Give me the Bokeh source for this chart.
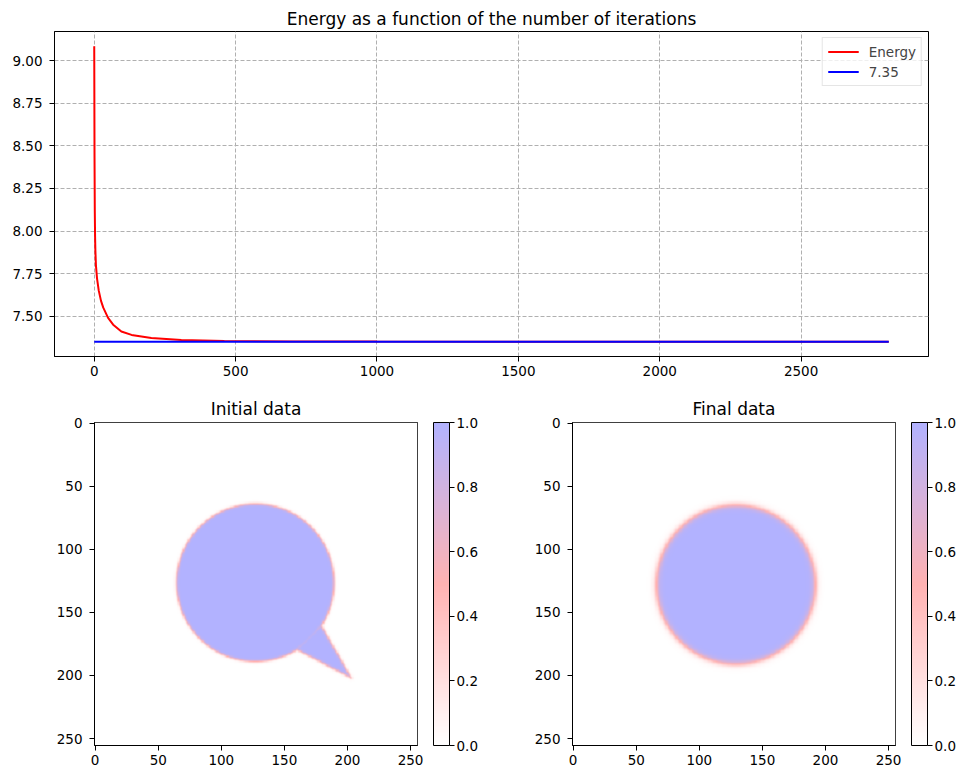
import numpy as np
from bokeh.plotting import figure
from bokeh.layouts import column, row
from bokeh.models import (Range1d, FixedTicker, PrintfTickFormatter, LinearColorMapper,
                          ColorBar, Legend, LegendItem)
from bokeh.embed import file_html
from bokeh.resources import INLINE

# ---------------- data ----------------
iterations = [0, 1, 2, 3, 4, 6, 10, 16, 24, 32, 49, 67, 96, 132, 202, 308, 460, 700,
              1000, 1500, 2000, 2810]
energy = [9.085, 8.45, 8.12, 7.97, 7.89, 7.80, 7.72, 7.65, 7.59, 7.55, 7.49, 7.45,
          7.41, 7.39, 7.372, 7.36, 7.354, 7.352, 7.351, 7.3505, 7.3502, 7.3500]
reference_energy = 7.35
reference_label = "7.35"
x_ticks = [0, 500, 1000, 1500, 2000, 2500]
y_ticks = [7.50, 7.75, 8.00, 8.25, 8.50, 8.75, 9.00]
img_ticks = [0, 50, 100, 150, 200, 250]
cbar_ticks = [0.0, 0.2, 0.4, 0.6, 0.8, 1.0]

# phase-field shapes (grid 256 x 256, x = column, y = row)
grid_n = 256
initial_center = (127.0, 126.5)
initial_radius = 62.5
initial_tail = [(179.0, 160.0), (203.0, 202.0), (159.0, 179.0)]
initial_width = 1.1
final_center = (129.0, 128.0)
final_radius = 63.0
final_width = 2.6

# colormap anchors (white -> red -> blue, drawn at alpha 0.3 on white)
cmap_anchors = [(255, 255, 255), (255, 0, 0), (0, 0, 255)]
cmap_alpha = 0.3

FONT = "DejaVu Sans"


def blend(c):
    return tuple(int(round(255 * (1 - cmap_alpha) + v * cmap_alpha)) for v in c)


def build_palette(n=256):
    a = [blend(c) for c in cmap_anchors]
    out = []
    for i in range(n):
        t = i / (n - 1) * (len(a) - 1)
        k = min(int(t), len(a) - 2)
        f = t - k
        c = [a[k][j] * (1 - f) + a[k + 1][j] * f for j in range(3)]
        out.append("#%02x%02x%02x" % tuple(int(round(v)) for v in c))
    return out


def sd_circle(X, Y, c, r):
    return np.hypot(X - c[0], Y - c[1]) - r


def sd_polygon(X, Y, verts):
    d = np.full(X.shape, np.inf)
    inside = np.zeros(X.shape, bool)
    n = len(verts)
    for i in range(n):
        ax, ay = verts[i]
        bx, by = verts[(i + 1) % n]
        ex, ey = bx - ax, by - ay
        t = np.clip(((X - ax) * ex + (Y - ay) * ey) / (ex * ex + ey * ey), 0, 1)
        d = np.minimum(d, np.hypot(X - ax - t * ex, Y - ay - t * ey))
        cond = ((ay > Y) != (by > Y)) & (X < ex * (Y - ay) / (by - ay + 1e-12) + ax)
        inside ^= cond
    return np.where(inside, -d, d)


X, Y = np.meshgrid(np.arange(grid_n, dtype=float), np.arange(grid_n, dtype=float))
d_init = np.minimum(sd_circle(X, Y, initial_center, initial_radius),
                    sd_polygon(X, Y, initial_tail))
u_init = 0.5 * (1 - np.tanh(d_init / initial_width))
d_final = sd_circle(X, Y, final_center, final_radius)
u_final = 0.5 * (1 - np.tanh(d_final / final_width))

palette = build_palette()
mapper = LinearColorMapper(palette=palette, low=0, high=1)


def style_axes(f, label_size="13.5px"):
    for ax in (f.xaxis[0], f.yaxis[0]):
        ax.axis_line_color = "black"
        ax.major_tick_line_color = "black"
        ax.major_tick_in = 0
        ax.major_tick_out = 5
        ax.minor_tick_line_color = None
        ax.major_label_text_font = FONT
        ax.major_label_text_font_size = label_size
        ax.major_label_text_color = "black"
    f.xaxis.major_label_standoff = 4
    f.yaxis.major_label_standoff = 7
    f.outline_line_color = "black"
    f.outline_line_width = 1
    f.title.align = "center"
    f.title.text_font = FONT
    f.title.text_font_size = "17px"
    f.title.text_font_style = "normal"
    f.title.text_color = "black"


# ---------------- top: energy ----------------
x_lo, x_hi = iterations[0], iterations[-1]
x_pad = 0.05 * (x_hi - x_lo)
y_lo, y_hi = reference_energy, max(energy)
y_pad = 0.05 * (y_hi - y_lo)

p = figure(title="Energy as a function of the number of iterations",
           x_range=Range1d(x_lo - x_pad, x_hi + x_pad),
           y_range=Range1d(y_lo - y_pad, y_hi + y_pad),
           frame_width=874, frame_height=325,
           min_border_left=54, min_border_right=33, min_border_top=31, min_border_bottom=29,
           output_backend="svg", toolbar_location=None)
style_axes(p)
p.title.standoff = 6
p.xaxis.ticker = FixedTicker(ticks=x_ticks)
p.yaxis.ticker = FixedTicker(ticks=y_ticks)
p.yaxis.formatter = PrintfTickFormatter(format="%.2f")
p.grid.grid_line_color = "#b0b0b0"
p.grid.grid_line_dash = "4 2"
p.grid.grid_line_width = 1

r_energy = p.line(iterations, energy, line_color="red", line_width=2)
r_ref = p.line([x_lo, x_hi], [reference_energy, reference_energy], line_color="blue", line_width=2)

legend = Legend(items=[LegendItem(label="Energy", renderers=[r_energy]),
                       LegendItem(label=reference_label, renderers=[r_ref])],
                location="top_right")
legend.label_text_font = FONT
legend.label_text_font_size = "13.5px"
legend.border_line_color = "#cccccc"
legend.background_fill_alpha = 0.8
legend.glyph_width = 31
legend.glyph_height = 17
legend.label_height = 17
legend.label_standoff = 10
legend.padding = 5
legend.spacing = 3
legend.margin = 6
p.add_layout(legend)


# ---------------- bottom: images ----------------
def image_panel(title, field, left, right):
    f = figure(title=title,
               x_range=Range1d(-0.5, grid_n - 0.5), y_range=Range1d(grid_n - 0.5, -0.5),
               frame_width=323, frame_height=323,
               min_border_left=left, min_border_right=right,
               min_border_top=37, min_border_bottom=26,
               output_backend="svg", toolbar_location=None)
    f.image(image=[field], x=-0.5, y=-0.5, dw=grid_n, dh=grid_n, color_mapper=mapper)
    style_axes(f)
    f.title.standoff = 8
    f.grid.visible = False
    f.xaxis.ticker = FixedTicker(ticks=img_ticks)
    f.yaxis.ticker = FixedTicker(ticks=img_ticks)
    cb = ColorBar(color_mapper=mapper, width=16, height=323, padding=0, margin=0,
                  location=(16, 0),
                  ticker=FixedTicker(ticks=cbar_ticks),
                  formatter=PrintfTickFormatter(format="%.1f"),
                  bar_line_color="black", border_line_color=None,
                  background_fill_color=None,
                  major_tick_line_color="black", major_tick_in=0, major_tick_out=5,
                  minor_tick_line_color=None, label_standoff=2,
                  major_label_text_font=FONT, major_label_text_font_size="13.5px",
                  major_label_text_color="black")
    f.add_layout(cb, "right")
    return f


f1 = image_panel("Initial data", u_init, 94, 83)
f2 = image_panel("Final data", u_final, 72, 66)

layout = column(p, row(f1, f2))
open("out.html", "w").write(file_html(layout, INLINE))
